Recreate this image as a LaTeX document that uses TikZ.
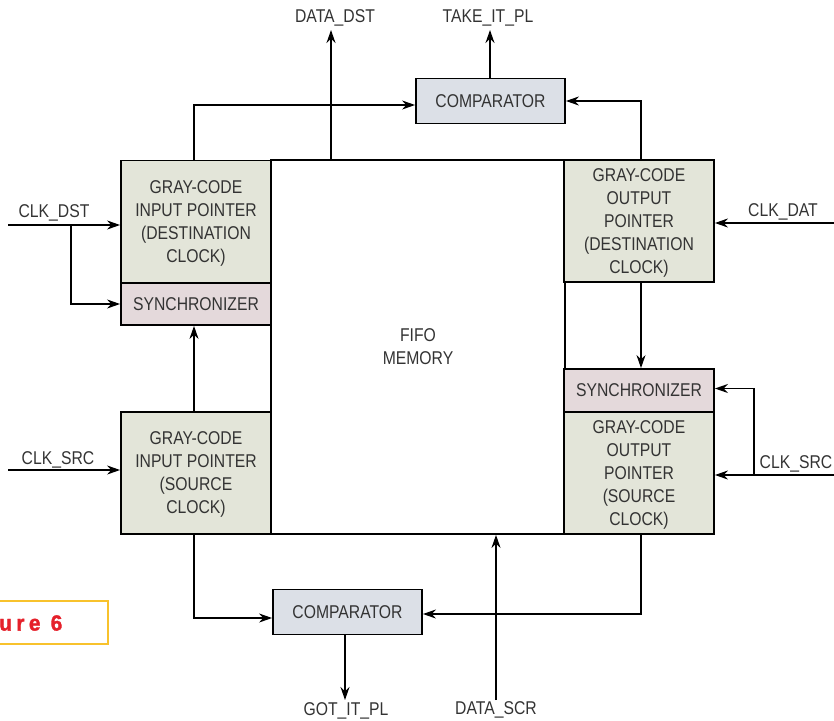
\documentclass[tikz,border=0pt]{standalone}
\usepackage{fontspec}
\setmainfont{Liberation Sans}[FakeStretch=0.85]
\newfontfamily\figfont{Liberation Sans}[FakeStretch=0.95,FakeBold=1.5,LetterSpace=20]
\usetikzlibrary{arrows.meta}
\definecolor{boxgreen}{HTML}{E3E5D9}
\definecolor{boxpink}{HTML}{E4D9DB}
\definecolor{boxblue}{HTML}{DCE0E7}
\definecolor{txt}{HTML}{333333}
\definecolor{figyellow}{HTML}{F8C22C}
\definecolor{figred}{HTML}{E5202A}
\begin{document}
\begin{tikzpicture}[x=1pt,y=-1pt,
  font=\fontsize{18.5}{23}\selectfont,
  base/.style={draw=black,line width=1.8pt,inner sep=0pt,text=txt,align=center},
  gbox/.style={base,fill=boxgreen,minimum width=150pt,minimum height=122pt,text depth=0pt},
  sbox/.style={base,fill=boxpink,minimum width=150pt,minimum height=42pt},
  cbox/.style={base,fill=boxblue,minimum width=149pt,minimum height=45pt},
  fbox/.style={base,fill=white,minimum width=294pt,minimum height=374pt},
  lab/.style={text=txt,inner sep=0pt},
  arr/.style={line width=1.6pt,-{Stealth[length=13pt,width=9pt]}},
  ln/.style={line width=1.6pt}]
\useasboundingbox (0,0) rectangle (834,720);
\node[fbox] (fifo) at (418,347) {FIFO\\MEMORY};
\node[gbox] (ltop) at (196,221.5) {GRAY-CODE\\INPUT POINTER\\(DESTINATION\\CLOCK)};
\node[sbox] (lsync) at (196,304) {SYNCHRONIZER};
\node[gbox] (lbot) at (196,473) {GRAY-CODE\\INPUT POINTER\\(SOURCE\\CLOCK)};
\node[gbox] (rtop) at (639,221) {GRAY-CODE\\OUTPUT\\POINTER\\(DESTINATION\\CLOCK)};
\node[sbox,minimum height=43pt] (rsync) at (639,390.5) {SYNCHRONIZER};
\node[gbox] (rbot) at (639,473) {GRAY-CODE\\OUTPUT\\POINTER\\(SOURCE\\CLOCK)};
\node[cbox] (tcomp) at (490.5,101) {COMPARATOR};
\node[cbox] (bcomp) at (347.5,612) {COMPARATOR};

% labels
\node[lab] (clkdst) at (54,213) {CLK\_DST};
\node[lab] (clksrcl) at (58,460) {CLK\_SRC};
\node[lab] (datadst) at (335,18) {DATA\_DST};
\node[lab] (takeit) at (488,18) {TAKE\_IT\_PL};
\node[lab] (clkdat) at (783,212) {CLK\_DAT};
\node[lab] (clksrcr) at (796,464) {CLK\_SRC};
\node[lab] (gotit) at (346,711) {GOT\_IT\_PL};
\node[lab] (datascr) at (496,710) {DATA\_SCR};

% free ends
\coordinate (inDst) at (8,225);
\coordinate (brDst) at (71,225);
\coordinate (inSrcL) at (8,470);
\coordinate (inDat) at (834,223);
\coordinate (inSrcR) at (834,475);
\coordinate (brSrcR) at (754,475);
\coordinate (outDataDst) at (331,30);
\coordinate (outTake) at (490,30);
\coordinate (outGot) at (345,700);
\coordinate (inDataScr) at (496,700);

% connectors
\draw[arr] (inDst) -- (inDst -| ltop.west);
\draw[arr] (brDst) |- (lsync.west);
\draw[arr] (inSrcL) -- (inSrcL -| lbot.west);
\draw[arr] ([xshift=-2pt]lbot.north) -- ([xshift=-2pt]lsync.south);
\draw[arr] ([xshift=-2pt]ltop.north) |- ([yshift=-4pt]tcomp.west);
\draw[arr] (fifo.north -| outDataDst) -- (outDataDst);
\draw[arr] (tcomp.north -| outTake) -- (outTake);
\draw[arr] ([xshift=2pt]rtop.north) |- (tcomp.east);
\draw[arr] (inDat) -- (inDat -| rtop.east);
\draw[arr] ([xshift=2pt]rtop.south) -- ([xshift=2pt]rsync.north);
\draw[arr] (inSrcR) -- (inSrcR -| rbot.east);
\draw[arr] (brSrcR) |- ([yshift=2pt]rsync.east);
\draw[arr] ([xshift=-2pt]lbot.south) |- ([yshift=-6pt]bcomp.west);
\draw[arr] ([xshift=2pt]rbot.south) |- ([yshift=-2pt]bcomp.east);
\draw[arr] (bcomp.south -| outGot) -- (outGot);
\draw[arr] (inDataScr) -- (inDataScr |- fifo.south);

% figure tag
\node[draw=figyellow,line width=2pt,minimum width=118pt,minimum height=43pt,inner sep=0pt] (fig) at (49,622) {};
\node[text=figred,anchor=west,inner sep=0pt,font=\figfont\bfseries\fontsize{22}{24}\selectfont] (figtxt) at (-1,623) {ure 6};
\end{tikzpicture}
\end{document}
